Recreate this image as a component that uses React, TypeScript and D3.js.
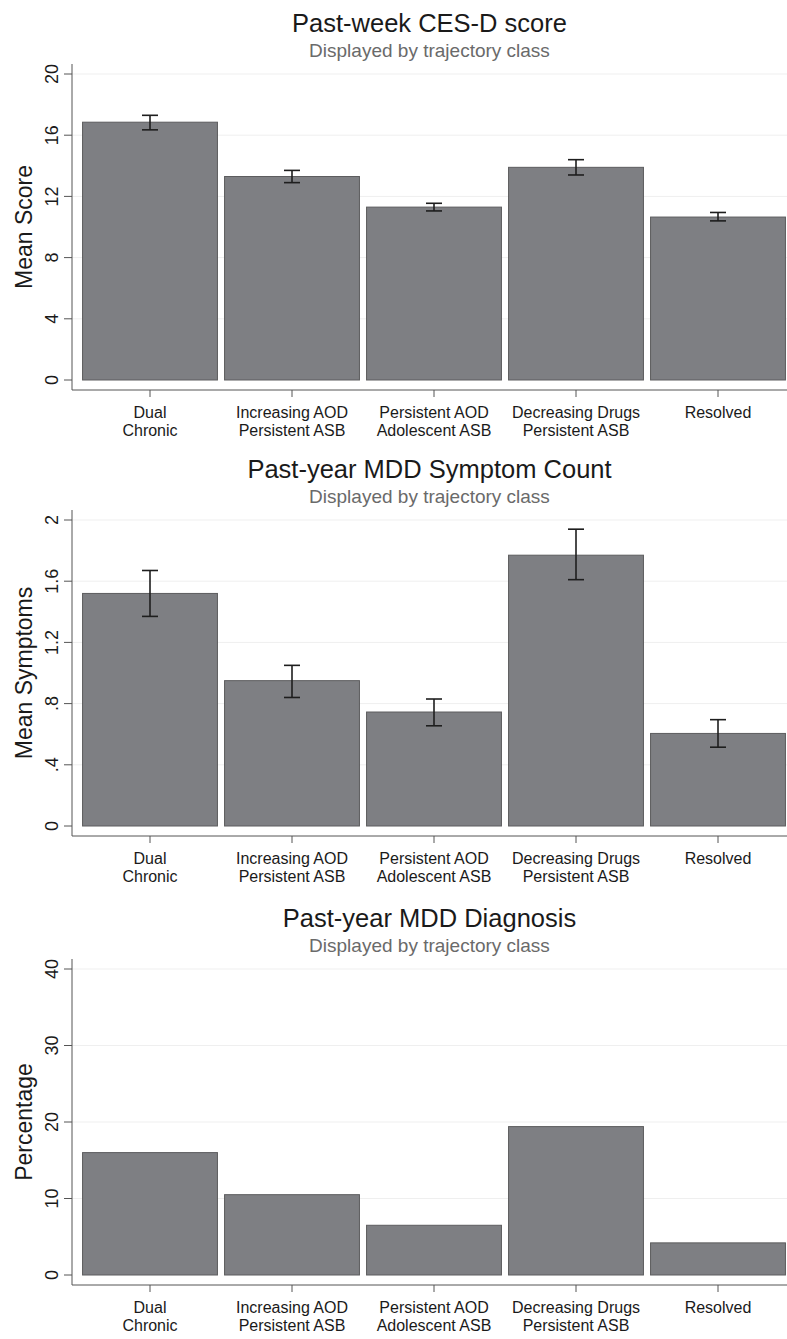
import React from 'react';
import * as d3 from 'd3';

// trajectory classes (two-line tick labels)
const classes = [
  ['Dual', 'Chronic'],
  ['Increasing AOD', 'Persistent ASB'],
  ['Persistent AOD', 'Adolescent ASB'],
  ['Decreasing Drugs', 'Persistent ASB'],
  ['Resolved', ''],
];

// Past-week CES-D score
const cesdMean = [16.85, 13.3, 11.3, 13.9, 10.65];
const cesdLow = [16.35, 12.9, 11.05, 13.4, 10.4];
const cesdHigh = [17.3, 13.7, 11.55, 14.4, 10.95];
const cesdTicks = [0, 4, 8, 12, 16, 20];

// Past-year MDD symptom count
const mddMean = [1.52, 0.95, 0.745, 1.77, 0.605];
const mddLow = [1.37, 0.84, 0.655, 1.61, 0.515];
const mddHigh = [1.67, 1.05, 0.83, 1.94, 0.695];
const mddTicks = [0, 0.4, 0.8, 1.2, 1.6, 2];

// Past-year MDD diagnosis (%)
const diagPct = [16.0, 10.5, 6.5, 19.4, 4.2];
const diagTicks = [0, 10, 20, 30, 40];

const stataNum = (v: number) => {
  const s = String(+v.toFixed(2));
  return s.startsWith('0.') ? s.slice(1) : s;
};

const FONT = '"Liberation Sans", Arial, Helvetica, sans-serif';
const W = 787;
const LEFT = 72;
const RIGHT = 788;

function Panel({ title, yLabel, mean, low, high, ticks, top }) {
  const yTop = top;
  const y0 = top + 306;
  const axisY = y0 + 10;
  const y = d3.scaleLinear().domain([0, ticks[ticks.length - 1]]).range([y0, yTop]);
  const x = d3
    .scaleBand()
    .domain(classes.map((c) => c.join(' ')))
    .range([LEFT + 7, RIGHT + 1])
    .paddingInner(0.05)
    .paddingOuter(0.025);
  const cx = (i: number) => x(classes[i].join(' '))! + x.bandwidth() / 2;
  const midY = (y0 + yTop) / 2;

  return (
    <g>
      <text x={(LEFT + W) / 2} y={yTop - 42} textAnchor="middle" fontSize={25.5} fill="#1a1a1a">
        {title}
      </text>
      <text x={(LEFT + W) / 2} y={yTop - 17} textAnchor="middle" fontSize={19} fill="#6a6a6a">
        Displayed by trajectory class
      </text>

      {ticks.map((t) => (
        <g key={t}>
          {t !== 0 && <line x1={LEFT} x2={W} y1={y(t)} y2={y(t)} stroke="#efefef" strokeWidth={1} />}
          <line x1={LEFT - 8} x2={LEFT} y1={y(t)} y2={y(t)} stroke="#555" strokeWidth={1} />
          <text
            transform={`translate(${LEFT - 14},${y(t)}) rotate(-90)`}
            textAnchor="middle"
            fontSize={18}
            fill="#1a1a1a"
          >
            {stataNum(t)}
          </text>
        </g>
      ))}

      <text
        transform={`translate(32,${midY}) rotate(-90)`}
        textAnchor="middle"
        fontSize={23}
        fill="#1a1a1a"
      >
        {yLabel}
      </text>

      {mean.map((v, i) => (
        <rect
          key={i}
          x={x(classes[i].join(' '))}
          y={y(v)}
          width={x.bandwidth()}
          height={y0 - y(v)}
          fill="#7e7f83"
          stroke="#5c5c5e"
          strokeWidth={1}
        />
      ))}

      {low &&
        low.map((lo, i) => (
          <g key={i} stroke="#1e1e1e" strokeWidth={1.6}>
            <line x1={cx(i)} x2={cx(i)} y1={y(lo)} y2={y(high[i])} />
            <line x1={cx(i) - 8} x2={cx(i) + 8} y1={y(lo)} y2={y(lo)} />
            <line x1={cx(i) - 8} x2={cx(i) + 8} y1={y(high[i])} y2={y(high[i])} />
          </g>
        ))}

      <line x1={LEFT} x2={LEFT} y1={yTop - 10} y2={axisY} stroke="#555" strokeWidth={1} />
      <line x1={LEFT} x2={W} y1={axisY} y2={axisY} stroke="#555" strokeWidth={1} />

      {classes.map((c, i) => (
        <g key={i}>
          <line x1={cx(i)} x2={cx(i)} y1={axisY} y2={axisY + 7} stroke="#555" strokeWidth={1} />
          <text x={cx(i)} y={axisY + 28} textAnchor="middle" fontSize={16} fill="#1a1a1a">
            {c[0]}
          </text>
          <text x={cx(i)} y={axisY + 46} textAnchor="middle" fontSize={16} fill="#1a1a1a">
            {c[1]}
          </text>
        </g>
      ))}
    </g>
  );
}

export default function App() {
  return (
    <div style={{ position: 'absolute', left: 0, top: 0 }}>
      <svg width={787} height={1339} style={{ display: 'block', fontFamily: FONT, background: '#fff' }}>
        <Panel
          title="Past-week CES-D score"
          yLabel="Mean Score"
          mean={cesdMean}
          low={cesdLow}
          high={cesdHigh}
          ticks={cesdTicks}
          top={74}
        />
        <Panel
          title="Past-year MDD Symptom Count"
          yLabel="Mean Symptoms"
          mean={mddMean}
          low={mddLow}
          high={mddHigh}
          ticks={mddTicks}
          top={520}
        />
        <Panel
          title="Past-year MDD Diagnosis"
          yLabel="Percentage"
          mean={diagPct}
          low={null}
          high={null}
          ticks={diagTicks}
          top={969}
        />
      </svg>
    </div>
  );
}
